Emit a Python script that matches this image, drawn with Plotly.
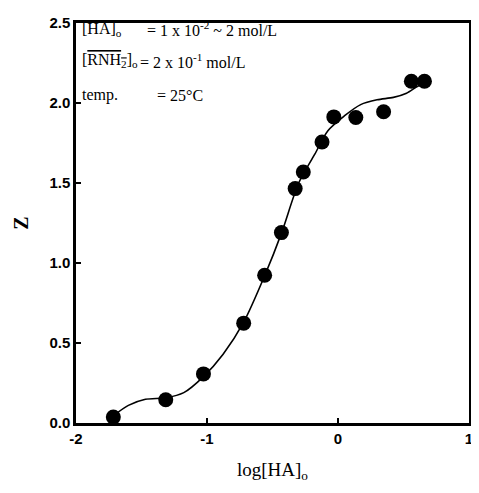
import plotly.graph_objects as go

# measured data points
log_ha = [-1.715, -1.315, -1.027, -0.72, -0.56, -0.432, -0.327, -0.265, -0.122, -0.032, 0.136, 0.348, 0.56, 0.66]
z_vals = [0.037, 0.145, 0.307, 0.624, 0.923, 1.19, 1.465, 1.569, 1.756, 1.913, 1.909, 1.945, 2.136, 2.136]

# fitted curve
curve_x = [-1.715, -1.60, -1.47, -1.315, -1.177, -1.027, -0.877, -0.72, -0.56, -0.43, -0.30, -0.177, -0.077, 0.048, 0.173, 0.298, 0.423, 0.523, 0.598, 0.661]
curve_y = [0.045, 0.11, 0.148, 0.158, 0.19, 0.29, 0.43, 0.63, 0.92, 1.19, 1.50, 1.68, 1.827, 1.919, 1.99, 2.02, 2.035, 2.061, 2.10, 2.13]

x_ticks = [-2, -1, 0, 1]
y_ticks = [0.0, 0.5, 1.0, 1.5, 2.0, 2.5]

fig = go.Figure()
fig.add_trace(go.Scatter(x=curve_x, y=curve_y, mode="lines",
                         line=dict(color="black", width=1.6, shape="spline", smoothing=0.8),
                         showlegend=False, hoverinfo="skip"))
fig.add_trace(go.Scatter(x=log_ha, y=z_vals, mode="markers",
                         marker=dict(color="black", size=15),
                         showlegend=False))

serif = "Liberation Serif"
axis_common = dict(showgrid=False, zeroline=False, showline=True, linecolor="black",
                   linewidth=2.5, mirror=True, ticks="inside", ticklen=5, tickwidth=1.5,
                   tickcolor="black",
                   tickfont=dict(family="Liberation Sans", size=15, color="black", weight="bold"))

fig.update_xaxes(range=[-2.0, 1.0], tickvals=x_ticks, ticktext=[str(v) for v in x_ticks],
                 ticklabeloverflow="allow",
                 title=dict(text="log[HA]<sub>o</sub>", font=dict(family=serif, size=19, color="black"), standoff=17),
                 **axis_common)
fig.update_yaxes(range=[0, 2.5], tickvals=y_ticks, ticktext=[f"{v:.1f}" for v in y_ticks],
                 title=dict(text="<b>Z</b>", font=dict(family=serif, size=20, color="black"), standoff=16),
                 **axis_common)

ann_font = dict(family=serif, size=16, color="black")
lines = [
    ("[HA]<sub>o</sub>", "= 1 x 10<sup>-2</sup> ~ 2 mol/L", 0.985, 0.175),
    ("[<span style='text-decoration:overline'>RNH<sub>2</sub></span>]<sub>o</sub>", "= 2 x 10<sup>-1</sup> mol/L", 0.905, 0.158),
    ("temp.", "= 25°C", 0.82, 0.2),
]
for left, right, yy, xr in lines:
    fig.add_annotation(text=left, x=0.01, y=yy, xref="paper", yref="paper",
                       xanchor="left", yanchor="middle", showarrow=False, font=ann_font)
    fig.add_annotation(text=right, x=xr, y=yy, xref="paper", yref="paper",
                       xanchor="left", yanchor="middle", showarrow=False, font=ann_font)

# page body adds an 8px offset; compensate so the plot lands where the reference has it
fig.update_layout(width=471, height=485, margin=dict(l=68, r=9, t=6, b=70),
                  plot_bgcolor="white", paper_bgcolor="white")
fig.write_html("out.html")
